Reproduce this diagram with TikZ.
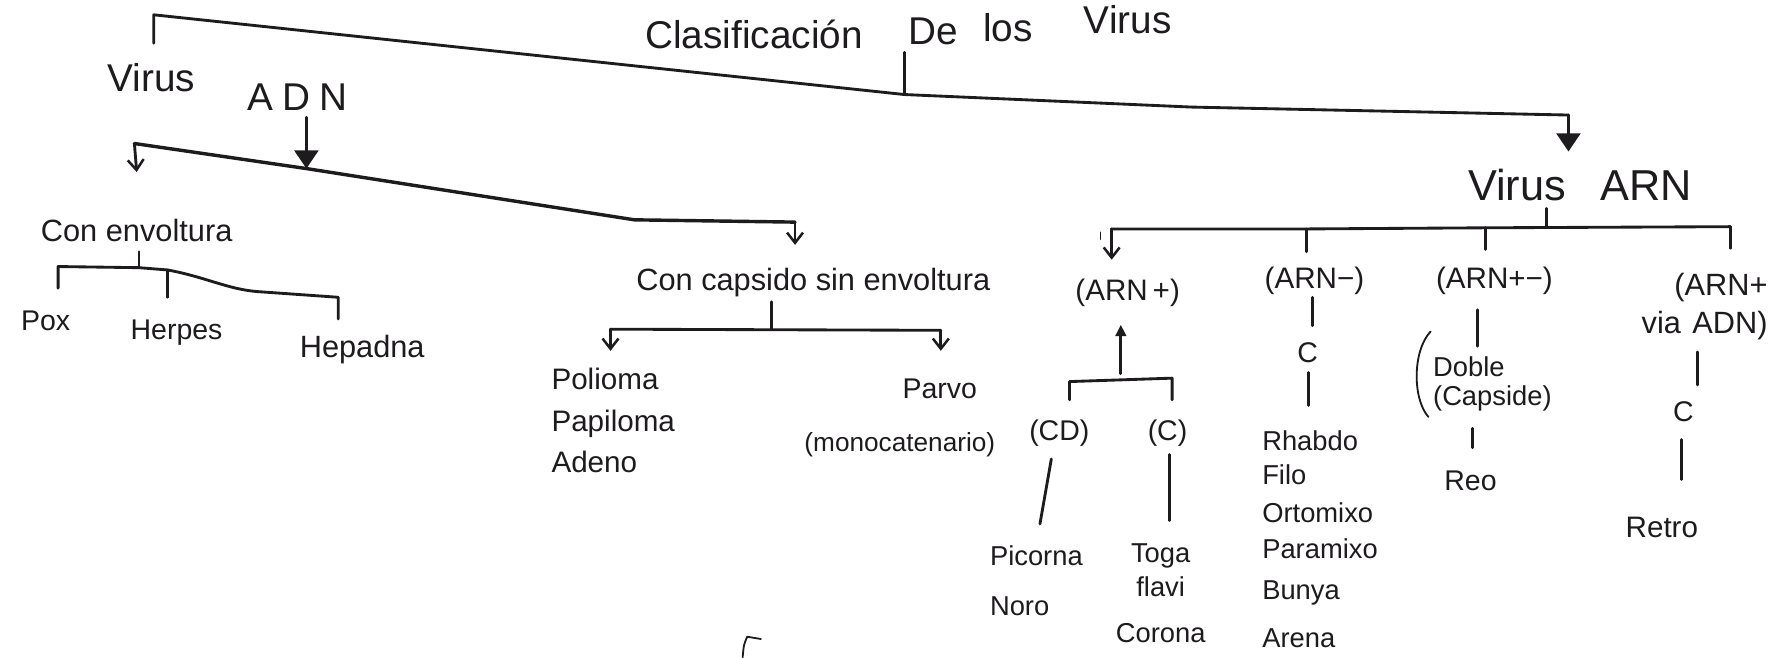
\documentclass[tikz,border=0pt]{standalone}
\usepackage{fontspec}
\setmainfont{Liberation Sans}
\usepackage{graphicx}
\usetikzlibrary{arrows.meta}
\definecolor{ink}{HTML}{1E1B1E}
\begin{document}
\begin{tikzpicture}[x=1pt,y=-1pt,
  ln/.style={draw=ink,line width=2.5pt,line cap=round,line join=round},
  lbl/.style={text=ink,inner sep=0pt,font=\fontsize{25}{30}\selectfont},
  big/.style={lbl,font=\fontsize{34}{40}\selectfont},
  huge/.style={lbl,font=\fontsize{38}{44}\selectfont},
  vtip/.style={-{Straight Barb[length=9pt,width=14pt,line width=2.2pt]}},
  ftip/.style={-{Triangle[length=16pt,width=21pt]}},
]
\fill[white] (0,0) rectangle (1568,577);
\useasboundingbox (0,0) rectangle (1568,577);

% ---------- title ----------
\node[big,anchor=base] (tclas) at (662,43) {Clasificación};
\node[big,anchor=base] (tde) at (819,39) {De};
\node[big,anchor=base] (tlos) at (885,36) {los};
\node[big,anchor=base] (tvir) at (990,29) {Virus};
\coordinate (ts) at (794,46);
\coordinate (tm) at (794,83);
\coordinate (tl) at (135,13);
\coordinate (tlt) at (135,38);
\coordinate (tq) at (1046,94);
\coordinate (tr) at (1377,101);
\coordinate (trb) at (1377,133);
\draw[ln] (ts) -- (tm);
\draw[ln] (tlt) -- (tl) -- (tm) -- (tq) -- (tr);
\draw[ln,ftip] (tr) -- (trb);

% ---------- Virus ADN ----------
\node[big,anchor=base] (vadn) at (133,80) {Virus};
\node[big,anchor=base] (adn) at (261,97) {A\hspace{8pt}D\hspace{8pt}N};
\coordinate (adnt) at (269,103);
\coordinate (d0) at (118,126);
\coordinate (d1) at (269,148);
\coordinate (d2) at (557,193);
\coordinate (d3) at (698,195);
\coordinate (d0b) at (120,151);
\coordinate (d3b) at (698,215);
\draw[ln,ftip] (adnt) -- (d1);
\draw[ln,line width=3pt] (d0) -- (d1) -- (d2) -- (d3);
\draw[ln,vtip] (d0) -- (d0b);
\draw[ln,vtip] (d3) -- (d3b);

% Con envoltura
\node[lbl,anchor=base,font=\fontsize{27}{30}\selectfont] (cenv) at (120,212) {Con envoltura};
\coordinate (e0) at (122,221);
\coordinate (e1) at (122,235);
\coordinate (eL) at (51,234);
\coordinate (eLb) at (51,253);
\coordinate (eH) at (147,237);
\coordinate (eHb) at (147,261);
\coordinate (eR) at (297,261);
\coordinate (eRb) at (297,280);
\draw[ln] (e0) -- (e1);
\draw[ln] (eLb) -- (eL) -- (e1) -- (eH) .. controls (180,243) and (200,254) .. (226,256) -- (eR) -- (eRb);
\draw[ln] (eH) -- (eHb);
\node[lbl,anchor=base] (pox) at (40,290) {Pox};
\node[lbl,anchor=base] (herpes) at (155,298) {Herpes};
\node[lbl,anchor=base,font=\fontsize{27}{30}\selectfont] (hepa) at (318,314) {Hepadna};

% Con capsido sin envoltura
\node[lbl,anchor=base,font=\fontsize{27}{30}\selectfont] (ccap) at (714,255) {Con capsido sin envoltura};
\coordinate (c0) at (677,265);
\coordinate (c1) at (677,289);
\coordinate (cL) at (536,289);
\coordinate (cR) at (826,290);
\coordinate (cLb) at (536,308);
\coordinate (cRb) at (826,308);
\draw[ln] (c0) -- (c1);
\draw[ln] (cL) -- (cR);
\draw[ln,vtip] (cL) -- (cLb);
\draw[ln,vtip] (cR) -- (cRb);
\node[lbl,anchor=north west,align=left,font=\fontsize{26}{36.5}\selectfont] (poli) at (484,323) {Polioma\\Papiloma\\Adeno};
\node[lbl,anchor=base] (parvo) at (825,350) {Parvo};
\node[lbl,anchor=base,font=\fontsize{23}{28}\selectfont] (mono) at (790,396) {(monocatenario)};

% ---------- Virus ARN ----------
\node[huge,anchor=base] (varn) at (1387,176) {Virus\hspace{30pt}ARN};
\coordinate (as) at (1358,183);
\coordinate (am) at (1358,200);
\coordinate (a1) at (976,201);
\coordinate (a2) at (1147,201);
\coordinate (a3) at (1304,200);
\coordinate (a4) at (1519,199);
\coordinate (a1b) at (976,228);
\coordinate (a2b) at (1147,221);
\coordinate (a3b) at (1304,219);
\coordinate (a4b) at (1519,218);
\draw[ln] (as) -- (am);
\draw[ln] (a1) -- (a2) -- (a3) -- (a4);
\draw[ln,vtip] (a1) -- (a1b);
\draw[ln] (a2) -- (a2b);
\draw[ln] (a3) -- (a3b);
\draw[ln] (a4) -- (a4b);
\coordinate (ap0) at (966,204);
\coordinate (ap1) at (966,210);
\draw[ln,line width=1.4pt] (ap0) -- (ap1);

\node[lbl,anchor=base,font=\fontsize{26}{30}\selectfont] (arnp) at (990,264) {(ARN\,+)};
\node[lbl,anchor=base,font=\fontsize{26}{30}\selectfont] (arnm) at (1154,253) {(ARN−)};
\node[lbl,anchor=base,font=\fontsize{26}{30}\selectfont] (arnpm) at (1312,253) {(ARN+−)};
\node[lbl,anchor=north east,align=right,font=\fontsize{27}{33}\selectfont] (arnr) at (1552,240) {(ARN+\\via\hspace{10pt}ADN)};

% (ARN+) branch
\coordinate (u0) at (984,328);
\coordinate (u1) at (984,285);
\coordinate (bL) at (939,335);
\coordinate (bR) at (1029,332);
\coordinate (bLb) at (939,351);
\coordinate (bRb) at (1029,351);
\draw[ln,-{Triangle[length=10pt,width=9pt]}] (u0) -- (u1);
\draw[ln] (bLb) -- (bL) -- (bR) -- (bRb);
\node[lbl,anchor=base] (cd) at (930,387) {(CD)};
\node[lbl,anchor=base] (cc) at (1025,387) {(C)};
\coordinate (l1a) at (923,403);
\coordinate (l1b) at (913,460);
\coordinate (l2a) at (1027,399);
\coordinate (l2b) at (1027,457);
\draw[ln] (l1a) -- (l1b);
\draw[ln] (l2a) -- (l2b);
\node[lbl,anchor=north west,align=left,font=\fontsize{24}{44}\selectfont] (pico) at (869,479) {Picorna\\Noro};
\node[lbl,anchor=north,align=center,font=\fontsize{24}{30}\selectfont] (toga) at (1019,477) {Toga\\flavi\\[10pt]Corona};

% (ARN-) branch
\coordinate (m0) at (1152,261);
\coordinate (m1) at (1152,286);
\coordinate (m2) at (1149,327);
\coordinate (m3) at (1149,356);
\draw[ln] (m0) -- (m1);
\draw[ln] (m2) -- (m3);
\node[lbl,anchor=base] (mc) at (1148,318) {C};
\node[lbl,anchor=north west,align=left,font=\fontsize{24}{30}\selectfont] (rhab) at (1108,378) {Rhabdo\\Filo\\[3pt]Ortomixo\\[2pt]Paramixo\\[6pt]Bunya\\[12pt]Arena};

% (ARN+-) branch
\coordinate (p0) at (1297,272);
\coordinate (p1) at (1297,304);
\coordinate (p2) at (1293,376);
\coordinate (p3) at (1293,393);
\draw[ln] (p0) -- (p1);
\draw[ln] (p2) -- (p3);
\coordinate (pp0) at (1256,291);
\coordinate (pp1) at (1254,366);
\draw[ln,line width=1.6pt] (pp0) .. controls (1240,308) and (1240,350) .. (pp1);
\node[lbl,anchor=north west,align=left,font=\fontsize{24}{25}\selectfont] (doble) at (1258,313) {Doble\\(Capside)};
\node[lbl,anchor=base] (reo) at (1291,431) {Reo};

% (ARN+ via ADN) branch
\coordinate (r0) at (1490,309);
\coordinate (r1) at (1490,338);
\coordinate (r2) at (1476,386);
\coordinate (r3) at (1476,421);
\draw[ln] (r0) -- (r1);
\draw[ln] (r2) -- (r3);
\node[lbl,anchor=base] (rc) at (1478,370) {C};
\node[lbl,anchor=base,font=\fontsize{26}{30}\selectfont] (retro) at (1459,472) {Retro};

% stray pen mark at bottom
\coordinate (s0) at (668,561);
\coordinate (s1) at (656,559);
\coordinate (s2) at (652,577);
\draw[ln,line width=1.6pt] (s0) -- (s1) .. controls (653,566) .. (s2);
\end{tikzpicture}
\end{document}
